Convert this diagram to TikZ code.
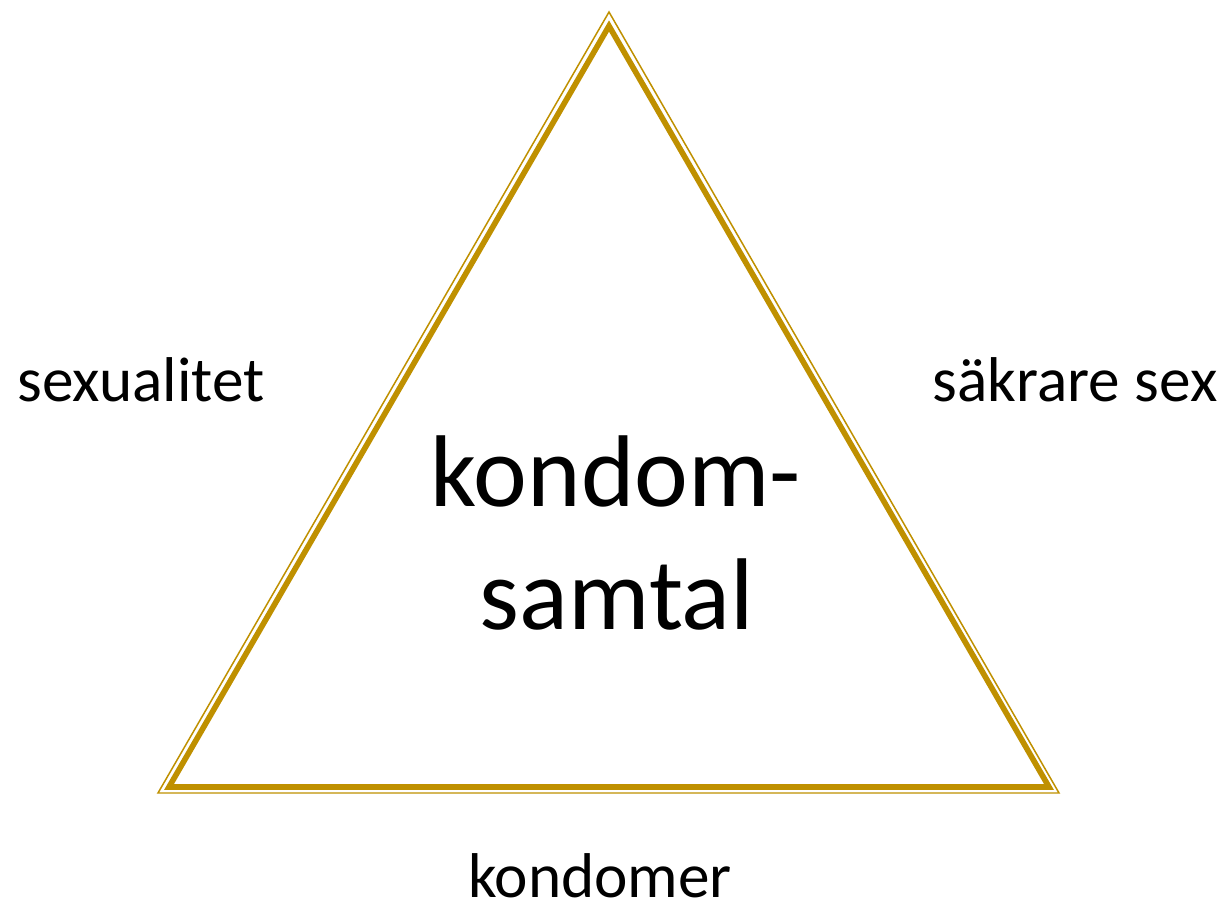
\documentclass[tikz,border=0pt]{standalone}
\usepackage{fontspec}
\setmainfont{Carlito}
\usepackage{xcolor}
\definecolor{gold}{HTML}{BF9000}

\tikzset{
  sidelabel/.style={anchor=base, inner sep=0pt, font=\fontsize{36}{40}\selectfont},
  centerlabel/.style={anchor=base, inner sep=0pt, font=\fontsize{58}{64}\selectfont}
}

\begin{document}
\begin{tikzpicture}[x=0.02cm, y=-0.02cm]
        \useasboundingbox (0,0) rectangle (1231,911);

        % Triangle corners
        \coordinate (top) at (609,12);
        \coordinate (left) at (158,793);
        \coordinate (right) at (1059,793);
        \coordinate (itop) at (609,26);
        \coordinate (ileft) at (169,787);
        \coordinate (iright) at (1049,787);

        % Double border: thin outer, thick inner
        \draw[gold, line width=0.85pt, line join=miter] (top) -- (right) -- (left) -- cycle;
        \draw[gold, line width=3.2pt, line join=miter] (itop) -- (iright) -- (ileft) -- cycle;

        % Labels round the triangle
        \node[sidelabel] (sex) at (141,402) {sexualitet};
        \node[sidelabel] (safe) at (1075,402) {säkrare sex};
        \node[sidelabel] (condoms) at (600,897) {kondomer};

        % Title inside
        \node[centerlabel] (talk1) at (616,507) {kondom-};
        \node[centerlabel] (talk2) at (617,630) {samtal};
    \end{tikzpicture}
\end{document}
